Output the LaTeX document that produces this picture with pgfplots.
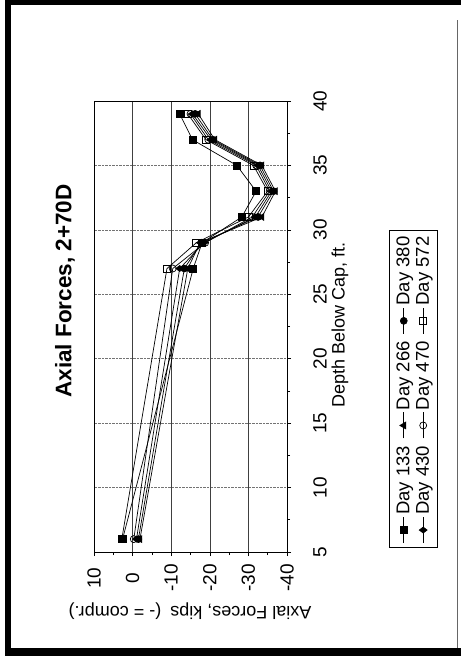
\documentclass[border=0pt]{standalone}
\usepackage{pgfplots}
\pgfplotsset{compat=1.18}
\usepackage{fontspec}
\setmainfont{Liberation Sans}
\begin{document}
\begin{tikzpicture}
\useasboundingbox (0pt,0pt) rectangle (461pt,656pt);
% scanned-page frame
\fill[black] (5pt,0pt) rectangle (11pt,656pt);
\fill[black] (5pt,651pt) rectangle (461pt,656pt);
\fill[black] (5pt,0pt) rectangle (461pt,8pt);
\draw[black!60, line width=1pt] (457pt,8pt) -- (457pt,636pt);

% the chart is printed sideways
\begin{scope}[shift={(287pt,104pt)}, rotate=90, transform shape]
\begin{axis}[
  scale only axis, width=451pt, height=193pt,
  at={(0pt,0pt)}, anchor=south west,
  xmin=5, xmax=40, ymin=-40, ymax=10,
  xtick={5,10,...,40}, ytick={-40,-30,...,10},
  minor x tick num=1, minor y tick num=1,
  xtick pos=bottom, ytick pos=left,
  tick align=outside, major tick length=4pt, minor tick length=3pt,
  xmajorgrids, ymajorgrids,
  x grid style={black!55, densely dotted, line width=0.6pt},
  y grid style={black!75, line width=0.5pt},
  axis line style={black, line width=0.8pt},
  tick style={black, line width=0.6pt},
  ticklabel style={font=\fontsize{19}{22}\selectfont},
  /pgf/number format/assume math mode=true,
  xticklabel style={anchor=center, yshift=-29pt},
  yticklabel style={anchor=center, xshift=-22pt},
  legend columns=3,
  legend style={at={(0.3614,-0.6554)}, anchor=center, draw=black,
    line width=0.8pt, font=\fontsize{18.5}{21}\selectfont,
    inner xsep=4pt, inner ysep=5pt, row sep=1pt,
    /tikz/every even column/.append style={column sep=5pt}},
  legend image code/.code={\draw[mark repeat=2,mark phase=2]
    plot coordinates {(0pt,0pt)(13pt,0pt)(26pt,0pt)};},
  every axis plot/.append style={black, line width=0.7pt, mark size=3.5pt,
    mark options={solid, line width=0.6pt}},
]
% Day 133
\addplot[mark=square*] coordinates {
  (6,2.6) (27,-15.7) (29,-18.0) (31,-28.3) (33,-32.0) (35,-27.0) (37,-15.5) (39,-12.2)
};
\addlegendentry{Day 133}
% Day 266
\addplot[mark=triangle*, mark size=4pt] coordinates {
  (6,-1.9) (27,-14.3) (29,-17.5) (31,-33.5) (33,-37.0) (35,-33.5) (37,-21.3) (39,-17.0)
};
\addlegendentry{Day 266}
% Day 380
\addplot[mark=*] coordinates {
  (6,-1.5) (27,-13.4) (29,-17.8) (31,-32.5) (33,-36.5) (35,-33.0) (37,-20.8) (39,-16.2)
};
\addlegendentry{Day 380}
% Day 430
\addplot[mark=diamond*, mark size=4pt] coordinates {
  (6,-1.0) (27,-12.2) (29,-18.5) (31,-31.8) (33,-36.0) (35,-32.5) (37,-20.3) (39,-15.5)
};
\addlegendentry{Day 430}
% Day 470
\addplot[mark=o, mark options={fill=white}] coordinates {
  (6,-0.3) (27,-10.4) (29,-18.8) (31,-31.0) (33,-35.5) (35,-32.0) (37,-19.6) (39,-15.0)
};
\addlegendentry{Day 470}
% Day 572
\addplot[mark=square, mark options={fill=white}] coordinates {
  (6,2.8) (27,-8.9) (29,-16.5) (31,-30.0) (33,-35.0) (35,-31.3) (37,-19.0) (39,-14.3)
};
\addlegendentry{Day 572}
\end{axis}
% titles, placed in the same sideways frame (axis corner at origin)
\node[font=\bfseries\fontsize{22.5}{25}\selectfont] at (261pt,222pt) {Axial Forces, 2+70D};
\node[font=\fontsize{18}{21}\selectfont] at (227pt,-53pt) {Depth Below Cap, ft.};
\node[font=\fontsize{18}{21}\selectfont, rotate=90] at (-59pt,97pt) {Axial Forces, kips\enspace(- = compr.)};
\end{scope}
\end{tikzpicture}
\end{document}
